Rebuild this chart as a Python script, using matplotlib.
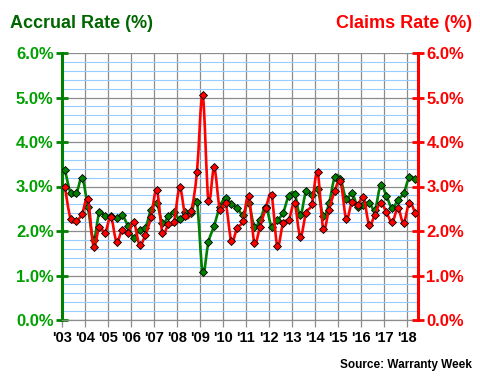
import numpy as np
import matplotlib
matplotlib.use("Agg")
import matplotlib.pyplot as plt
from matplotlib.path import Path
from matplotlib.patches import PathPatch
from matplotlib.ticker import MultipleLocator, FuncFormatter

plt.rcParams['font.family'] = ['Liberation Sans', 'DejaVu Sans']
plt.rcParams['font.weight'] = 'bold'

years = ["'03", "'04", "'05", "'06", "'07", "'08", "'09", "'10",
         "'11", "'12", "'13", "'14", "'15", "'16", "'17", "'18"]

# quarterly rates, Q1 2003 .. Q2 2018
accrual = [3.38, 2.86, 2.85, 3.19, 2.54, 1.80, 2.42, 2.33, 2.34, 2.30,
           2.35, 2.11, 1.85, 2.03, 2.07, 2.47, 2.62, 2.17, 2.33, 2.42,
           2.26, 2.42, 2.41, 2.65, 1.07, 1.75, 2.12, 2.55, 2.75, 2.60,
           2.52, 2.37, 2.62, 2.10, 2.25, 2.55, 2.10, 2.24, 2.41, 2.79,
           2.84, 2.35, 2.89, 2.81, 2.95, 2.33, 2.62, 3.21, 3.17, 2.72,
           2.85, 2.55, 2.59, 2.64, 2.48, 3.03, 2.79, 2.51, 2.70, 2.85,
           3.21, 3.16]
claims = [2.99, 2.27, 2.23, 2.38, 2.72, 1.65, 2.10, 1.96, 2.32, 1.76,
          2.03, 1.96, 2.20, 1.69, 1.91, 2.31, 2.93, 1.95, 2.15, 2.21,
          2.98, 2.33, 2.45, 3.32, 5.06, 2.68, 3.43, 2.47, 2.62, 1.77,
          2.07, 2.22, 2.79, 1.74, 2.10, 2.52, 2.80, 1.66, 2.18, 2.25,
          2.62, 1.87, 2.41, 2.60, 3.32, 2.05, 2.48, 2.90, 3.13, 2.27,
          2.65, 2.58, 2.76, 2.14, 2.37, 2.64, 2.42, 2.20, 2.51, 2.18,
          2.64, 2.41]

x = np.arange(len(accrual)) + 0.5


def smooth_path(xs, ys):
    # bezier curve through the points, like a smoothed spreadsheet line
    pts = np.column_stack([xs, ys])
    n = len(pts)
    verts = [pts[0]]
    codes = [Path.MOVETO]
    for i in range(n - 1):
        p0 = pts[max(i - 1, 0)]
        p1 = pts[i]
        p2 = pts[i + 1]
        p3 = pts[min(i + 2, n - 1)]
        verts += [p1 + (p2 - p0) / 6, p2 - (p3 - p1) / 6, p2]
        codes += [Path.CURVE4] * 3
    return Path(verts, codes)


fig = plt.figure(figsize=(4.8, 3.8), dpi=100)
ax = fig.add_axes([62 / 480, 1 - 320 / 380, 356 / 480, 267 / 380])
ax2 = ax.twinx()

ax.set_xlim(0, 62)
ax.set_ylim(0, 6)
ax2.set_ylim(0, 6)

ax.set_xticks(np.arange(0, 61, 4))
ax.set_xticklabels(years)
for a in (ax, ax2):
    a.yaxis.set_major_locator(MultipleLocator(1))
    a.yaxis.set_major_formatter(FuncFormatter(lambda v, p: f"{v:.1f}%"))
ax.yaxis.set_minor_locator(MultipleLocator(0.2))

ax.set_axisbelow(True)
ax.grid(which='minor', axis='y', color='#99ccff', lw=0.8)
ax.grid(which='major', axis='y', color='#8c8c8c', lw=0.9)
ax.grid(which='major', axis='x', color='#8c8c8c', lw=0.9)

for s in ('top', 'right'):
    ax.spines[s].set_visible(False)
for s in ('top', 'left', 'bottom'):
    ax2.spines[s].set_visible(False)
ax.spines['left'].set_color('#008000')
ax.spines['left'].set_linewidth(2.2)
ax.spines['bottom'].set_color('#8c8c8c')
ax.spines['bottom'].set_linewidth(0.9)
ax2.spines['right'].set_color('#ff0000')
ax2.spines['right'].set_linewidth(2.2)

ax.tick_params(axis='y', which='major', direction='inout', length=8, width=2,
               color='#008000', labelcolor='#00a000', labelsize=12, pad=2)
ax.tick_params(axis='y', which='minor', length=0)
ax2.tick_params(axis='y', which='major', direction='inout', length=8, width=2,
                color='#ff0000', labelcolor='#ff0000', labelsize=12, pad=2)
ax.tick_params(axis='x', direction='out', length=5, width=0.9,
               color='#8c8c8c', labelcolor='black', labelsize=10.5, pad=3)

ax.add_patch(PathPatch(smooth_path(x, accrual), fill=False,
                       edgecolor='#008000', lw=1.9, zorder=3))
ax.plot(x, accrual, ls='none', marker='D', ms=4.3, mfc='#008000',
        mec='black', mew=0.6, zorder=4)
ax2.add_patch(PathPatch(smooth_path(x, claims), fill=False,
                        edgecolor='#ff0000', lw=1.9, zorder=3))
ax2.plot(x, claims, ls='none', marker='D', ms=4.3, mfc='#ff0000',
         mec='black', mew=0.6, zorder=4)

fig.text(10 / 480, 1 - 23 / 380, 'Accrual Rate (%)', color='#006600',
         fontsize=13, fontweight='bold', ha='left', va='center')
fig.text(472 / 480, 1 - 23 / 380, 'Claims Rate (%)', color='#ff0000',
         fontsize=13, fontweight='bold', ha='right', va='center')
fig.text(472 / 480, 1 - 365 / 380, 'Source: Warranty Week', color='black',
         fontsize=8.5, fontweight='bold', ha='right', va='center')

fig.savefig('out.png', dpi=100)
